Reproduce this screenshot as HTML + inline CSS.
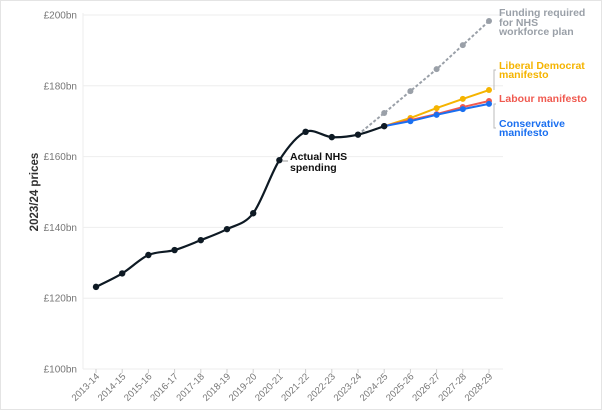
<!DOCTYPE html>
<html><head><meta charset="utf-8"><style>
html,body{margin:0;padding:0;background:#fff}
svg{display:block;font-family:"Liberation Sans",sans-serif}
</style></head><body>
<svg id="chart" width="602" height="410">
<rect x="0.5" y="0.5" width="601" height="409" fill="#fff" stroke="#e4e4e4"/>
<g id="grid"></g>
<g id="axes"></g>
<g id="series"></g>
<text transform="translate(38,192) rotate(-90)" text-anchor="middle" font-size="11.5" font-weight="bold" fill="#333">2023/24 prices</text>
<text x="292" y="160" font-size="10.5" font-weight="bold" fill="#111"><tspan x="290" dy="0">Actual NHS</tspan><tspan x="290" dy="11">spending</tspan></text>
<line x1="283" y1="161" x2="288" y2="161" stroke="#999"/>
<text font-size="10.5" font-weight="bold" fill="#9aa0a8"><tspan x="499" y="16">Funding required</tspan><tspan x="499" y="26">for NHS</tspan><tspan x="499" y="35">workforce plan</tspan></text>
<text font-size="10.5" font-weight="bold" fill="#f5b400"><tspan x="499" y="69">Liberal Democrat</tspan><tspan x="499" y="78">manifesto</tspan></text>
<text x="499" y="102" font-size="10.5" font-weight="bold" fill="#f05a50">Labour manifesto</text>
<text font-size="10.5" font-weight="bold" fill="#1a6ff0"><tspan x="499" y="127">Conservative</tspan><tspan x="499" y="136">manifesto</tspan></text>
<path d="M496,70 H494 V90 M496,104 H494 V128 H496" fill="none" stroke="#bbb"/>
</svg>
<script>
const categories=["2013-14","2014-15","2015-16","2016-17","2017-18","2018-19","2019-20","2020-21","2021-22","2022-23","2023-24","2024-25","2025-26","2026-27","2027-28","2028-29"];
const yTicks=[100,120,140,160,180,200];
const actual=[123.2,127,132.2,133.6,136.4,139.5,144,159,167,165.5,166.2,168.6];
const fundingPlan=[null,null,null,null,null,null,null,null,null,null,166.2,172.3,178.5,184.7,191.5,198.3];
const libDem=[null,null,null,null,null,null,null,null,null,null,null,168.6,170.9,173.7,176.3,178.8];
const labour=[null,null,null,null,null,null,null,null,null,null,null,168.6,170.3,172,174,175.7];
const conservative=[null,null,null,null,null,null,null,null,null,null,null,168.6,170,171.8,173.4,174.9];
const NS="http://www.w3.org/2000/svg";
const x=i=>96+i*(489-96)/(categories.length-1);
const y=v=>369-(v-100)*(369-15)/100;
function mk(t,a,p){const e=document.createElementNS(NS,t);for(const k in a)e.setAttribute(k,a[k]);p.appendChild(e);return e;}
const grid=document.getElementById('grid'),axes=document.getElementById('axes'),ser=document.getElementById('series');
yTicks.forEach(v=>{
 const l=mk('line',{x1:83,x2:503,y1:y(v),y2:y(v),stroke:'#eeeeee'},grid);
 
 
 const t=mk('text',{x:77,y:y(v)+3.5,'text-anchor':'end','font-size':'10',fill:'#777'},axes);
 t.textContent='£'+v+'bn';
 
 
});
const ya=mk('line',{x1:83,x2:83,y1:13,y2:369,stroke:'#eeeeee'},axes);


categories.forEach((c,i)=>{
 const tk=mk('line',{x1:x(i),x2:x(i),y1:369,y2:373,stroke:'#ccc'},axes);
 
 
 const t=mk('text',{transform:`translate(${x(i)+4},377) rotate(-45)`,'text-anchor':'end','font-size':'9.5',fill:'#777'},axes);
 t.textContent=c;
 
 
});
function pts(arr){const p=[];arr.forEach((v,i)=>{if(v!=null)p.push([x(i),y(v)]);});return p;}
function smooth(p){let d=`M${p[0][0]},${p[0][1]}`;for(let i=0;i<p.length-1;i++){const p0=p[i-1]||p[i],p1=p[i],p2=p[i+1],p3=p[i+2]||p2;const t=0.16;d+=` C${p1[0]+(p2[0]-p0[0])*t},${p1[1]+(p2[1]-p0[1])*t} ${p2[0]-(p3[0]-p1[0])*t},${p2[1]-(p3[1]-p1[1])*t} ${p2[0]},${p2[1]}`;}return d;}
function line(arr,color,name,dash,w,curve,r){
 const p=pts(arr);
 const path=mk('path',{d:curve?smooth(p):'M'+p.map(q=>q.join(',')).join(' L'),fill:'none',stroke:color,'stroke-width':w,'stroke-dasharray':dash||'none'},ser);
 
 
 p.forEach((q,i)=>{if(dash&&i==0)return;const c=mk('circle',{cx:q[0],cy:q[1],r:r,fill:color},ser);
  
  });
}
line(fundingPlan,'#9aa0a8','funding-plan','3,2',2,false,3);
line(libDem,'#f5b400','libdem',null,2,false,3);
line(labour,'#f05a50','labour',null,2,false,3);
line(conservative,'#1a6ff0','conservative',null,2,false,3);
line(actual,'#0e1a24','actual',null,2.2,true,3.2);
</script>
</body></html>
